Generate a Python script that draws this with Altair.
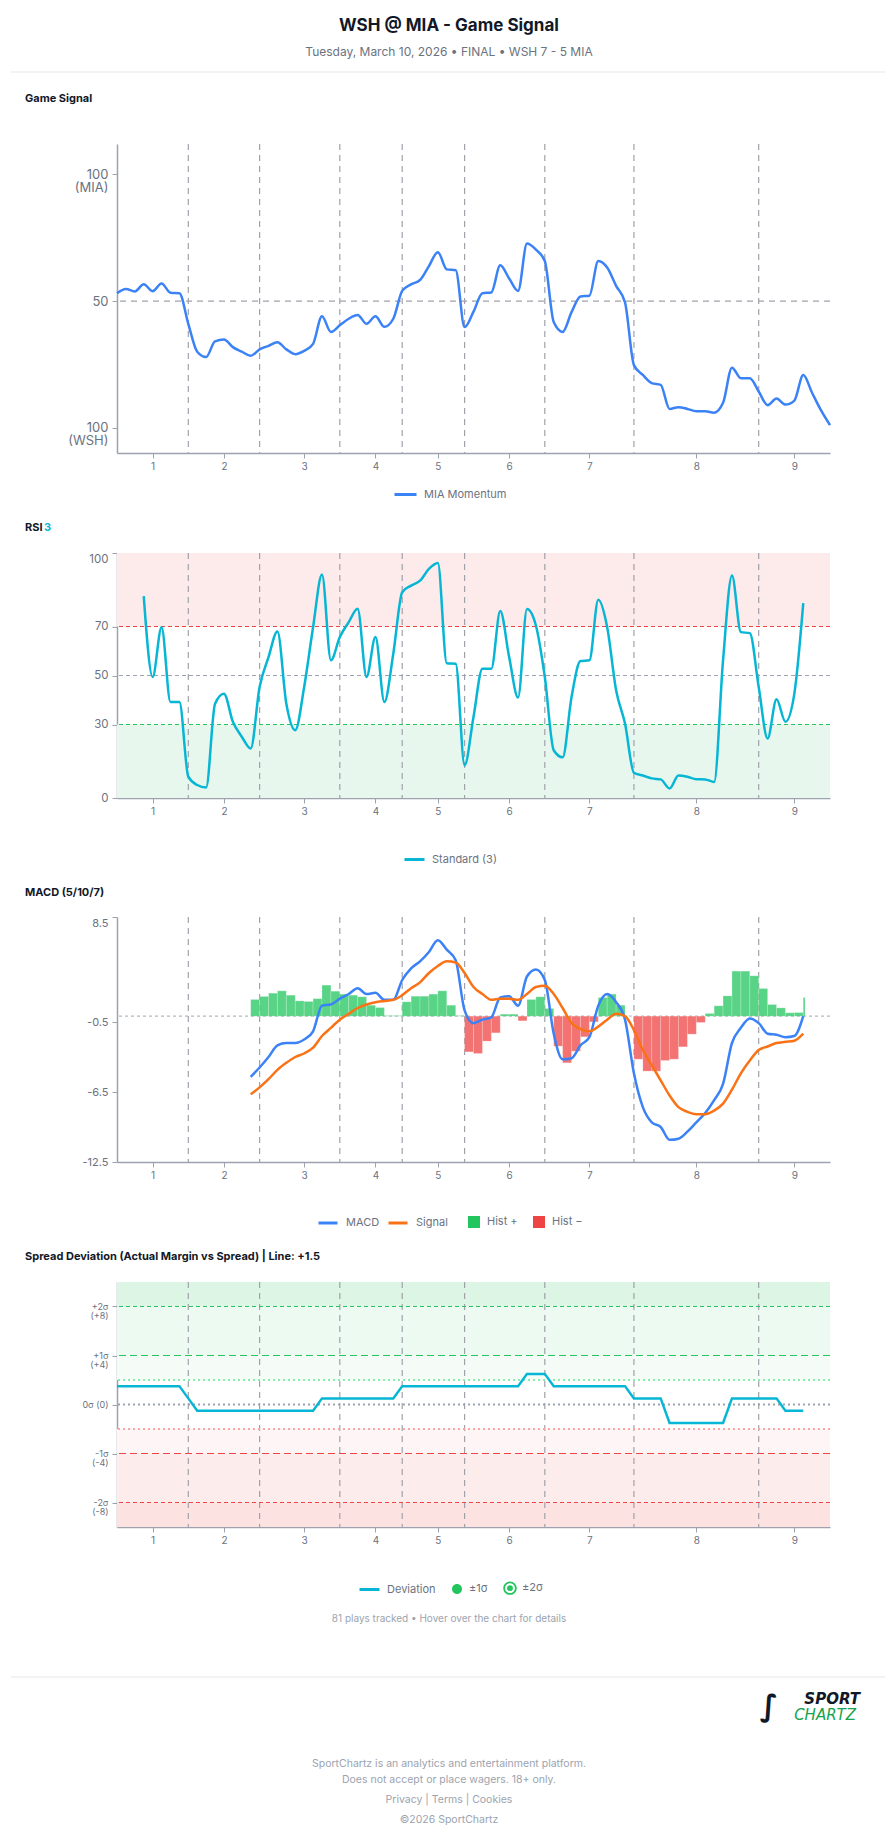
import json
import altair as alt
import pandas as pd

# ---------------- data ----------------
n_plays = 81
signal_vals = [53.1, 54.8, 53.8, 56.6, 53.9, 56.9, 53.3, 53.1, 41.0, 30.0,
               27.9, 34.1, 34.8, 31.8, 30.0, 28.4, 30.9, 32.3, 33.7, 30.9,
               29.0, 30.3, 33.1, 44.0, 37.8, 40.4, 43.0, 44.5, 41.0, 44.0,
               39.8, 43.0, 54.0, 56.6, 58.3, 63.8, 69.3, 62.5, 62.2, 39.7,
               45.8, 53.1, 53.4, 64.1, 58.9, 54.0, 72.7, 70.3, 65.8, 41.7,
               37.8, 45.6, 51.8, 52.1, 65.8, 63.2, 56.0, 49.5, 24.7, 20.8,
               17.6, 16.9, 7.4, 8.1, 7.4, 6.5, 6.5, 5.9, 9.8, 23.7,
               19.5, 19.5, 14.3, 8.9, 11.5, 9.1, 10.7, 20.8, 13.7, 6.8,
               1.0]

rsi_start = 3
rsi_vals = [82.4, 49.4, 69.7, 39.2, 39.2, 8.7, 5.3, 4.3, 38.5, 42.6,
            31.1, 25.0, 20.2, 45.3, 57.5, 68.0, 38.5, 27.7, 45.3, 69.7,
            91.2, 56.2, 65.7, 71.8, 77.2, 49.4, 65.7, 39.2, 58.9, 84.0,
            86.7, 88.7, 93.5, 95.9, 55.0, 54.8, 13.4, 33.1, 52.8, 52.8,
            76.3, 57.5, 41.0, 77.1, 70.4, 49.4, 19.5, 16.6, 41.2, 55.9,
            56.2, 80.9, 69.7, 44.0, 30.4, 10.3, 9.2, 8.0, 7.6, 3.9,
            9.2, 8.7, 7.7, 7.6, 6.5, 56.2, 90.8, 67.7, 67.3, 45.3,
            24.3, 40.3, 31.1, 42.6, 79.5]

macd_start = 15
macd_vals = [-5.2, -4.4, -3.5, -2.5, -2.3, -2.3, -2.0, -1.3, 0.9, 1.0,
             1.5, 1.9, 2.4, 1.9, 2.0, 1.4, 1.4, 3.1, 4.1, 4.7,
             5.5, 6.5, 5.7, 4.8, 0.5, -0.6, -0.3, -0.1, 1.6, 1.7,
             0.9, 3.4, 4.0, 3.1, -1.5, -3.7, -3.6, -2.5, -1.8, 0.9,
             1.9, 1.2, -0.3, -4.9, -7.8, -9.1, -9.5, -10.6, -10.5, -9.9,
             -9.1, -8.3, -7.2, -5.8, -2.3, -1.0, -0.2, -0.6, -1.5, -1.6,
             -1.8, -1.7, 0.0]
signal_line_vals = [-6.7, -6.1, -5.4, -4.6, -4.0, -3.5, -3.2, -2.7, -1.7, -1.0,
                    -0.3, 0.2, 0.7, 1.0, 1.2, 1.3, 1.4, 1.8, 2.4, 2.9,
                    3.7, 4.3, 4.7, 4.6, 3.7, 2.5, 1.9, 1.4, 1.5, 1.5,
                    1.4, 1.9, 2.5, 2.6, 1.9, 0.7, -0.6, -1.1, -1.3, -0.9,
                    -0.3, 0.2, 0.0, -1.2, -2.9, -4.2, -5.5, -6.8, -7.8, -8.2,
                    -8.4, -8.4, -8.1, -7.5, -6.3, -4.9, -3.8, -2.9, -2.6, -2.3,
                    -2.2, -2.1, -1.5]
hist_vals = [1.43, 1.69, 1.97, 2.17, 1.80, 1.31, 1.26, 1.50, 2.66, 2.14,
             1.89, 1.80, 1.66, 0.94, 0.74, 0.05, 0.05, 1.23, 1.71, 1.71,
             1.89, 2.17, 0.94, 0.05, -3.06, -3.20, -2.14, -1.43, 0.17, 0.17,
             -0.40, 1.43, 1.66, 0.66, -2.57, -4.00, -3.00, -1.77, -0.49, 1.60,
             1.89, 0.94, 0.00, -3.69, -4.71, -4.71, -3.80, -3.69, -2.63, -1.54,
             -0.54, 0.23, 0.89, 1.74, 3.86, 3.86, 3.46, 2.37, 1.00, 0.71,
             0.29, 0.31, 1.60]
hist_last_end = 77.2

dev_vals = [1.5, 1.5, 1.5, 1.5, 1.5, 1.5, 1.5, 1.5, 0.5, -0.5,
            -0.5, -0.5, -0.5, -0.5, -0.5, -0.5, -0.5, -0.5, -0.5, -0.5,
            -0.5, -0.5, -0.5, 0.5, 0.5, 0.5, 0.5, 0.5, 0.5, 0.5,
            0.5, 0.5, 1.5, 1.5, 1.5, 1.5, 1.5, 1.5, 1.5, 1.5,
            1.5, 1.5, 1.5, 1.5, 1.5, 1.5, 2.5, 2.5, 2.5, 1.5,
            1.5, 1.5, 1.5, 1.5, 1.5, 1.5, 1.5, 1.5, 0.5, 0.5,
            0.5, 0.5, -1.5, -1.5, -1.5, -1.5, -1.5, -1.5, -1.5, 0.5,
            0.5, 0.5, 0.5, 0.5, 0.5, -0.5, -0.5, -0.5]

inning_ticks = [4, 12, 21, 29, 36, 44, 53, 65, 76]
inning_labels = ['1', '2', '3', '4', '5', '6', '7', '8', '9']
inning_breaks = [8, 16, 25, 32, 39, 48, 58, 72]

sig_ticks = [0, 50, 100]
sig_labels = [['100', '(WSH)'], '50', ['100', '(MIA)']]
rsi_ticks = [0, 30, 50, 70, 100]
rsi_labels = ['0', '30', '50', '70', '100']
macd_ticks = [-12.5, -6.5, -0.5, 8.5]
macd_labels = ['-12.5', '-6.5', '-0.5', '8.5']
dev_ticks = [-8, -4, 0, 4, 8]
dev_labels = [['-2σ', '(-8)'], ['-1σ', '(-4)'], '0σ (0)', ['+1σ', '(+4)'], ['+2σ', '(+8)']]

title_text = 'WSH @ MIA - Game Signal'
subtitle_text = 'Tuesday, March 10, 2026 • FINAL • WSH 7 - 5 MIA'
panel_titles = ['Game Signal', 'RSI', '3', 'MACD (5/10/7)',
                'Spread Deviation (Actual Margin vs Spread) | Line: +1.5']
note_text = '81 plays tracked • Hover over the chart for details'
footer_lines = ['SportChartz is an analytics and entertainment platform.',
                'Does not accept or place wagers. 18+ only.',
                'Privacy | Terms | Cookies',
                '©2026 SportChartz']
logo_words = ['SPORT', 'CHARTZ', '∫']

# ---------------- styling ----------------
FONT = 'Inter'
W = 713
AX = '#9ca3af'
LAB = '#6b7280'
BLUE = '#3b82f6'
CYAN = '#06b6d4'
ORANGE = '#f97316'
GREEN = '#22c55e'
RED = '#ef4444'

# marker glyphs (unit-square SVG paths): filled dot, and ring with centre dot
DOT_PATH = "M -0.74 0 A 0.74 0.74 0 1 1 0.74 0 A 0.74 0.74 0 1 1 -0.74 0 Z"
RING_PATH = ("M -1 0 A 1 1 0 1 1 1 0 A 1 1 0 1 1 -1 0 Z "
             "M -0.73 0 A 0.73 0.73 0 1 0 0.73 0 A 0.73 0.73 0 1 0 -0.73 0 Z "
             "M -0.44 0 A 0.44 0.44 0 1 1 0.44 0 A 0.44 0.44 0 1 1 -0.44 0 Z")


def label_expr(vals, labels):
    expr = "''"
    for v, lab in reversed(list(zip(vals, labels))):
        expr = f"datum.value == {v} ? {json.dumps(lab, ensure_ascii=False)} : {expr}"
    return expr


x_scale = alt.Scale(domain=[0, n_plays - 1], nice=False, zero=False)
x_ax = alt.Axis(values=inning_ticks, labelExpr=label_expr(inning_ticks, inning_labels),
                title=None, grid=False, domainColor=AX, domainWidth=1.5, tickColor=AX,
                tickSize=5, labelColor=LAB, labelFontSize=10, labelFont=FONT,
                labelPadding=3, labelOverlap=False, labelFlush=False)


def y_axis(vals, labels, size, top_val=None, line_height=None):
    kw = dict(values=vals, labelExpr=label_expr(vals, labels), title=None, grid=False,
              domainColor=AX, domainWidth=1.5, tickColor=AX, tickSize=5,
              labelColor=LAB, labelFontSize=size, labelFont=FONT, labelPadding=4,
              labelOverlap=False)
    if top_val is not None:
        kw['labelBaseline'] = {'condition': {'test': f'datum.value == {top_val}', 'value': 'top'},
                               'value': 'middle'}
    if line_height is not None:
        kw['labelLineHeight'] = line_height
    return alt.Axis(**kw)


def legend(x, y, stype, size, col_pad=19, offset=7, sw=3, **kw):
    return alt.Legend(orient='none', legendX=x, legendY=y, direction='horizontal', title=None,
                      symbolType=stype, symbolSize=size, symbolStrokeWidth=sw,
                      columnPadding=col_pad, labelOffset=offset, labelFont=FONT,
                      labelFontSize=11, labelColor=LAB, padding=0, symbolOpacity=1, **kw)


def breaks_layer():
    return alt.Chart(pd.DataFrame({'b': inning_breaks})).mark_rule(
        color='#a1a1aa', strokeDash=[6, 5], strokeWidth=1.2
    ).encode(x=alt.X('b:Q', scale=x_scale, axis=x_ax))


def hrule(val, ys, yax, color, dash, width=1.2):
    return alt.Chart(pd.DataFrame({'m': [val]})).mark_rule(
        color=color, strokeDash=dash, strokeWidth=width
    ).encode(y=alt.Y('m:Q', scale=ys, axis=yax))


def band(lo, hi, ys, yax, color):
    return alt.Chart(pd.DataFrame({'lo': [lo], 'hi': [hi]})).mark_rect(color=color).encode(
        y=alt.Y('lo:Q', scale=ys, axis=yax), y2='hi:Q')


def txt(s, x, y, size, color, weight='normal', align='center', style='normal', font=FONT):
    return alt.Chart(pd.DataFrame({'t': [s]})).mark_text(
        align=align, baseline='middle', font=font, fontSize=size, fontWeight=weight,
        fontStyle=style, color=color
    ).encode(x=alt.value(x), y=alt.value(y), text='t:N')


def hline(y):
    return alt.Chart(pd.DataFrame({'a': [0]})).mark_rule(color='#e5e7eb', strokeWidth=1).encode(
        x=alt.value(-106), x2=alt.value(768), y=alt.value(y))


# ---------------- header ----------------
header = alt.layer(
    txt(title_text, 332, 26, 17, '#111827', 'bold'),
    txt(subtitle_text, 332, 52, 12, LAB),
    hline(72),
    txt(panel_titles[0], -92, 99, 11, '#111827', 'bold', 'left'),
).properties(width=W, height=144)

# ---------------- panel 1: game signal ----------------
ys1 = alt.Scale(domain=[-10, 112], nice=False, zero=False)
yax1 = y_axis(sig_ticks, sig_labels, 13, line_height=13)
df_sig = pd.DataFrame({'play': list(range(n_plays)), 'v': signal_vals, 's': 'MIA Momentum'})
line1 = alt.Chart(df_sig).mark_line(interpolate='monotone', strokeWidth=2.5).encode(
    x=alt.X('play:Q', scale=x_scale, axis=x_ax),
    y=alt.Y('v:Q', scale=ys1, axis=yax1),
    color=alt.Color('s:N', scale=alt.Scale(domain=['MIA Momentum'], range=[BLUE]),
                    legend=legend(276, 338, 'stroke', 484, offset=6)))
p1 = alt.layer(breaks_layer(), hrule(50, ys1, yax1, '#a1a1aa', [6, 5]), line1
               ).properties(width=W, height=309)

sp1 = alt.layer(
    txt(panel_titles[1], -92, 75, 11, '#111827', 'bold', 'left'),
    txt(panel_titles[2], -73, 75, 11, CYAN, 'bold', 'left'),
).properties(width=W, height=100)

# ---------------- panel 2: RSI ----------------
ys2 = alt.Scale(domain=[0, 100], nice=False, zero=False)
yax2 = y_axis(rsi_ticks, rsi_labels, 11.5, top_val=100)
df_rsi = pd.DataFrame({'play': list(range(rsi_start, rsi_start + len(rsi_vals))),
                       'v': rsi_vals, 's': 'Standard (3)'})
line2 = alt.Chart(df_rsi).mark_line(interpolate='monotone', strokeWidth=2.5).encode(
    x=alt.X('play:Q', scale=x_scale, axis=x_ax),
    y=alt.Y('v:Q', scale=ys2, axis=yax2),
    color=alt.Color('s:N', scale=alt.Scale(domain=['Standard (3)'], range=[CYAN]),
                    legend=legend(286, 295, 'stroke', 400, offset=6)))
p2 = alt.layer(
    band(70, 100, ys2, yax2, '#fdeaea'),
    band(0, 30, ys2, yax2, '#e8f7ee'),
    breaks_layer(),
    hrule(70, ys2, yax2, RED, [4, 3]),
    hrule(50, ys2, yax2, '#9ca3af', [4, 3]),
    hrule(30, ys2, yax2, GREEN, [4, 3]),
    line2,
).properties(width=W, height=245)

sp2 = txt(panel_titles[3], -92, 95, 11, '#111827', 'bold', 'left').properties(width=W, height=119)

# ---------------- panel 3: MACD ----------------
ys3 = alt.Scale(domain=[-12.5, 8.5], nice=False, zero=False)
yax3 = y_axis(macd_ticks, macd_labels, 11, top_val=8.5)
hist_play = list(range(macd_start, macd_start + len(hist_vals)))
hist_end = [p + 1 for p in hist_play[:-1]] + [hist_last_end]
df_hist = pd.DataFrame({'x0': hist_play, 'x1': hist_end, 'h': hist_vals,
                        'k': ['Hist +' if h >= 0 else 'Hist −' for h in hist_vals],
                        'z': [0.0] * len(hist_vals)})
bars = alt.Chart(df_hist).mark_rect(fillOpacity=0.75, stroke='white', strokeWidth=0.4,
                                    strokeOpacity=0.5).encode(
    x=alt.X('x0:Q', scale=x_scale, axis=x_ax), x2='x1:Q',
    y=alt.Y('z:Q', scale=ys3, axis=yax3), y2='h:Q',
    fill=alt.Fill('k:N', scale=alt.Scale(domain=['Hist +', 'Hist −'], range=[GREEN, RED]),
                  legend=legend(351, 299, 'square', 144, col_pad=15, offset=7, sw=0)))
macd_play = list(range(macd_start, macd_start + len(macd_vals)))
df_macd = pd.DataFrame({'play': macd_play + macd_play,
                        'v': macd_vals + signal_line_vals,
                        's': ['MACD'] * len(macd_vals) + ['Signal'] * len(signal_line_vals)})
lines3 = alt.Chart(df_macd).mark_line(interpolate='monotone', strokeWidth=2.5).encode(
    x=alt.X('play:Q', scale=x_scale, axis=x_ax),
    y=alt.Y('v:Q', scale=ys3, axis=yax3),
    color=alt.Color('s:N', scale=alt.Scale(domain=['MACD', 'Signal'], range=[BLUE, ORANGE]),
                    legend=legend(200, 295, 'stroke', 361, col_pad=2, offset=7)))
p3 = alt.layer(
    breaks_layer(),
    hrule(0, ys3, yax3, '#b4b8c0', [3, 3]),
    bars,
    lines3,
).properties(width=W, height=245)

sp3 = txt(panel_titles[4], -92, 95, 11, '#111827', 'bold', 'left').properties(width=W, height=120)

# ---------------- panel 4: spread deviation ----------------
ys4 = alt.Scale(domain=[-10, 10], nice=False, zero=False)
yax4 = y_axis(dev_ticks, dev_labels, 9, line_height=9)
band_lo = [8, 4, 2, -4, -8, -10]
band_hi = [10, 8, 4, -2, -4, -8]
band_col = ['#dcf5e5', '#edfaf2', '#f5fcf8', '#fef6f6', '#fdecec', '#fde2e2']
lvl_vals = [8, 4, 2, 0, -2, -4, -8]
lvl_cols = [GREEN, GREEN, '#86efac', '#9ca3af', '#fca5a5', RED, RED]
lvl_dash = [[4, 3], [7, 4], [2, 3], [2, 3], [2, 3], [7, 4], [4, 3]]
lvl_w = [1.2, 1.2, 1.8, 2.0, 1.8, 1.2, 1.2]

df_dev = pd.DataFrame({'play': list(range(len(dev_vals))), 'v': dev_vals, 's': 'Deviation'})
line4 = alt.Chart(df_dev).mark_line(strokeWidth=2.5).encode(
    x=alt.X('play:Q', scale=x_scale, axis=x_ax),
    y=alt.Y('v:Q', scale=ys4, axis=yax4),
    color=alt.Color('s:N', scale=alt.Scale(domain=['Deviation'], range=[CYAN]),
                    legend=legend(241, 296, 'stroke', 400, offset=6)))
sigma_dom = ['±1σ', '±2σ']
# markers where the deviation crosses ±1σ / ±2σ (none in this game) -> legend entries
sig_pts = alt.Chart(df_dev).transform_filter('abs(datum.v) >= 4').transform_calculate(
    k="abs(datum.v) >= 8 ? '±2σ' : '±1σ'"
).mark_point(filled=True, opacity=1, color=GREEN, size=182).encode(
    x=alt.X('play:Q', scale=x_scale, axis=x_ax),
    y=alt.Y('v:Q', scale=ys4, axis=yax4),
    shape=alt.Shape('k:N', scale=alt.Scale(domain=sigma_dom, range=[DOT_PATH, RING_PATH]),
                    legend=alt.Legend(orient='none', legendX=333, legendY=299, title=None,
                                      direction='horizontal', symbolSize=182,
                                      symbolFillColor=GREEN, symbolStrokeWidth=0,
                                      symbolOpacity=1, columnPadding=15, labelOffset=5,
                                      labelFont=FONT, labelFontSize=11, labelColor=LAB,
                                      padding=0)))
p4_layers = [band(lo, hi, ys4, yax4, c) for lo, hi, c in zip(band_lo, band_hi, band_col)]
p4_layers.append(breaks_layer())
p4_layers += [hrule(v, ys4, yax4, c, d, w) for v, c, d, w in zip(lvl_vals, lvl_cols, lvl_dash, lvl_w)]
p4_layers += [line4, sig_pts]
p4 = alt.layer(*p4_layers).properties(width=W, height=245)

# ---------------- footer ----------------
footer = alt.layer(
    txt(note_text, 332, 92, 10, '#9ca3af'),
    hline(150),
    txt(logo_words[2], 652, 180, 30, '#111827', 'bold', 'center', 'italic', 'DejaVu Sans'),
    txt(logo_words[0], 743, 172, 15, '#111827', 'bold', 'right', 'italic', 'DejaVu Sans'),
    txt(logo_words[1], 739, 188, 15, '#16a34a', 'normal', 'right', 'italic', 'DejaVu Sans'),
    txt(footer_lines[0], 332, 237, 10.5, '#9ca3af'),
    txt(footer_lines[1], 332, 253, 10.5, '#9ca3af'),
    txt(footer_lines[2], 332, 273, 10.5, '#9ca3af'),
    txt(footer_lines[3], 332, 293, 10.5, '#9ca3af'),
).properties(width=W, height=318)

chart = alt.vconcat(header, p1, sp1, p2, sp2, p3, sp3, p4, footer, spacing=0, bounds='flush'
                    ).resolve_scale(color='independent', fill='independent', shape='independent'
                    ).resolve_legend(color='independent', fill='independent', shape='independent'
                    ).properties(padding={'left': 10, 'right': 10, 'top': 0, 'bottom': 0}
                    ).configure(font=FONT
                    ).configure_view(strokeWidth=0, stroke='transparent')

chart.save('out.html', embed_options={'renderer': 'svg', 'actions': False})
